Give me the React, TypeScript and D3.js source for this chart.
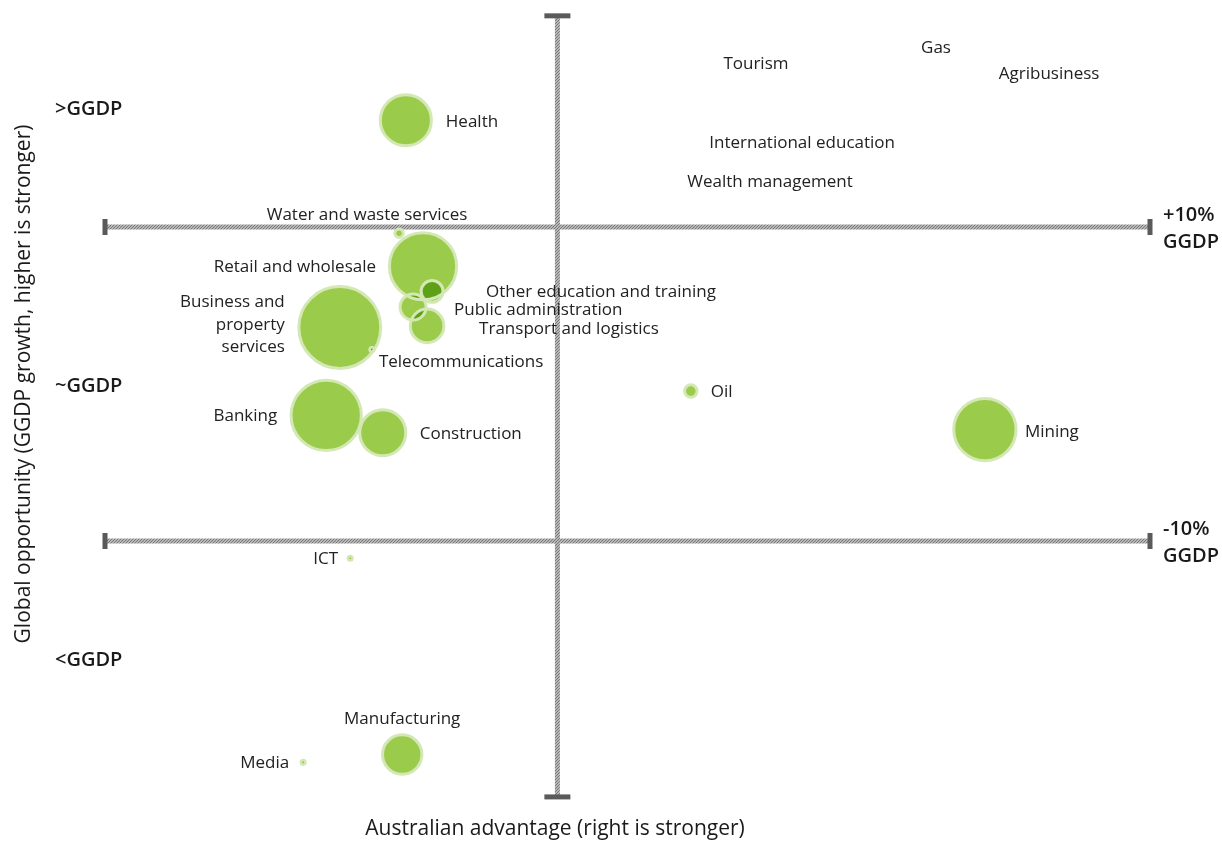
import React from "react";
import * as d3 from "d3";

const sectors = [
  "Health", "Water and waste services", "Retail and wholesale", "Other education and training",
  "Public administration", "Transport and logistics", "Business and property services",
  "Telecommunications", "Banking", "Construction", "Oil", "Mining", "ICT", "Media", "Manufacturing",
  "Tourism", "Gas", "Agribusiness", "International education", "Wealth management",
];
const advantage = [-3.35, -3.5, -2.97, -2.77, -3.19, -2.88, -4.81, -4.1, -5.11, -3.86, 2.95, 9.45, -4.58, -5.62, -3.43, 4.39, 8.37, 10.87, 5.41, 4.7];
const opportunity = [16.8, 9.6, 7.5, 5.9, 4.9, 3.7, 3.6, 2.2, -2.0, -3.1, -0.45, -2.9, -11.1, -24.1, -23.6, 20.5, 21.5, 19.9, 15.5, 13.0];
const sizes = [37, 1.0, 64, 6.8, 9.6, 16, 95, 0.3, 70, 30, 2.2, 55, 0.3, 0.3, 22, 0, 0, 0, 0, 0];

const quadrantLabels = [">GGDP", "~GGDP", "<GGDP"];
const quadrantValues = [17.58, 0, -17.5];
const thresholdValues = [10, -10];
const thresholdLabels = [["+10%", "GGDP"], ["-10%", "GGDP"]];

const labelLayout: Record<string, { a: string; dx: number; dy: number; lines?: string[] }> = {
  "Health": { a: "start", dx: 40, dy: 0 },
  "Water and waste services": { a: "middle", dx: -32, dy: -20 },
  "Retail and wholesale": { a: "end", dx: -47, dy: -1 },
  "Other education and training": { a: "start", dx: 54, dy: -1 },
  "Public administration": { a: "start", dx: 41, dy: 1 },
  "Transport and logistics": { a: "start", dx: 52, dy: 1 },
  "Business and property services": { a: "end", dx: -55, dy: -27, lines: ["Business and", "property", "services"] },
  "Telecommunications": { a: "start", dx: 7, dy: 11 },
  "Banking": { a: "end", dx: -49, dy: -1 },
  "Construction": { a: "start", dx: 37, dy: -1 },
  "Oil": { a: "start", dx: 20, dy: -1 },
  "Mining": { a: "start", dx: 40, dy: 0 },
  "ICT": { a: "end", dx: -12, dy: -1 },
  "Media": { a: "end", dx: -14, dy: -1 },
  "Manufacturing": { a: "middle", dx: 0, dy: -38 },
};

const FONT = "'Open Sans', 'Noto Sans', sans-serif";

export default function App() {
  const W = 1222, H = 841;
  const x = d3.scaleLinear().domain([-10, 13.1]).range([105, 1150]);
  const y = d3.scaleLinear().domain([-10, 10]).range([541, 227]);
  const r = d3.scaleSqrt().domain([0, 100]).range([0, 42]);
  const yTop = 23.45, yBot = -26.3;

  const data = sectors.map((s, i) => ({ name: s, cx: x(advantage[i]), cy: y(opportunity[i]), r: sizes[i] > 0 ? r(sizes[i]) : 0 }));
  const bubbles = data.filter(d => d.r > 0).sort((a, b) => b.r - a.r);

  const lineColor = "#5a5a5a";
  return (
    <svg width={W} height={H} style={{ position: "absolute", left: 0, top: 0, background: "#fff" }} fontFamily={FONT}>
      <defs>
        <pattern id="hatch" width="3" height="3" patternUnits="userSpaceOnUse">
          <rect width="3" height="3" fill="#d4d4d4" />
          <path d="M0,3 L3,0 M-1,1 L1,-1 M2,4 L4,2" stroke="#727272" strokeWidth="1.1" />
        </pattern>
      </defs>
      {thresholdValues.map((v, i) => (
        <g key={"h" + i}>
          <rect x={x(-10)} y={y(v) - 2.5} width={x(13.1) - x(-10)} height={5} fill="url(#hatch)" />
          <rect x={x(-10) - 2.5} y={y(v) - 8} width={5} height={16} fill={lineColor} />
          <rect x={x(13.1) - 2.5} y={y(v) - 8} width={5} height={16} fill={lineColor} />
          <text x={1163} y={y(v) - 14} fontSize={20} fontWeight={600} fill="#1a1a1a" dominantBaseline="central">{thresholdLabels[i][0]}</text>
          <text x={1163} y={y(v) + 13} fontSize={20} fontWeight={600} fill="#1a1a1a" dominantBaseline="central">{thresholdLabels[i][1]}</text>
        </g>
      ))}
      <rect x={x(0) - 2.5} y={y(yTop)} width={5} height={y(yBot) - y(yTop)} fill="url(#hatch)" />
      <rect x={x(0) - 13} y={y(yTop) - 2.5} width={26} height={5} fill={lineColor} />
      <rect x={x(0) - 13} y={y(yBot) - 2.5} width={26} height={5} fill={lineColor} />

      <g>
        {bubbles.map(d => (
          <circle key={"f" + d.name} cx={d.cx} cy={d.cy} r={d.r} fill="#9bcb4b" style={{ mixBlendMode: "multiply" }} />
        ))}
      </g>
      <g>
        {bubbles.map(d => (
          <circle key={"s" + d.name} cx={d.cx} cy={d.cy} r={d.r} fill="none" stroke="#d3e8b4" strokeWidth={d.r < 3 ? 2.5 : 3} />
        ))}
      </g>

      {data.map(d => {
        const l = labelLayout[d.name] || { a: "middle", dx: 0, dy: 0 };
        const lines = l.lines || [d.name];
        return (
          <text key={"t" + d.name} x={d.cx + l.dx} y={d.cy + l.dy} textAnchor={l.a} fontSize={17} fill="#222" dominantBaseline="central">
            {lines.map((t, j) => (
              <tspan key={j} x={d.cx + l.dx} dy={j === 0 ? 0 : 22.5}>{t}</tspan>
            ))}
          </text>
        );
      })}

      {quadrantLabels.map((t, i) => (
        <text key={t} x={55} y={y(quadrantValues[i])} fontSize={20} fontWeight={600} fill="#1a1a1a" dominantBaseline="central">{t}</text>
      ))}

      <text transform={`translate(22,${y(0)}) rotate(-90)`} textAnchor="middle" fontSize={21} fill="#1a1a1a" dominantBaseline="central">
        Global opportunity (GGDP growth, higher is stronger)
      </text>
      <text x={555} y={827} textAnchor="middle" fontSize={21} fill="#1a1a1a" dominantBaseline="central">
        Australian advantage (right is stronger)
      </text>
    </svg>
  );
}
